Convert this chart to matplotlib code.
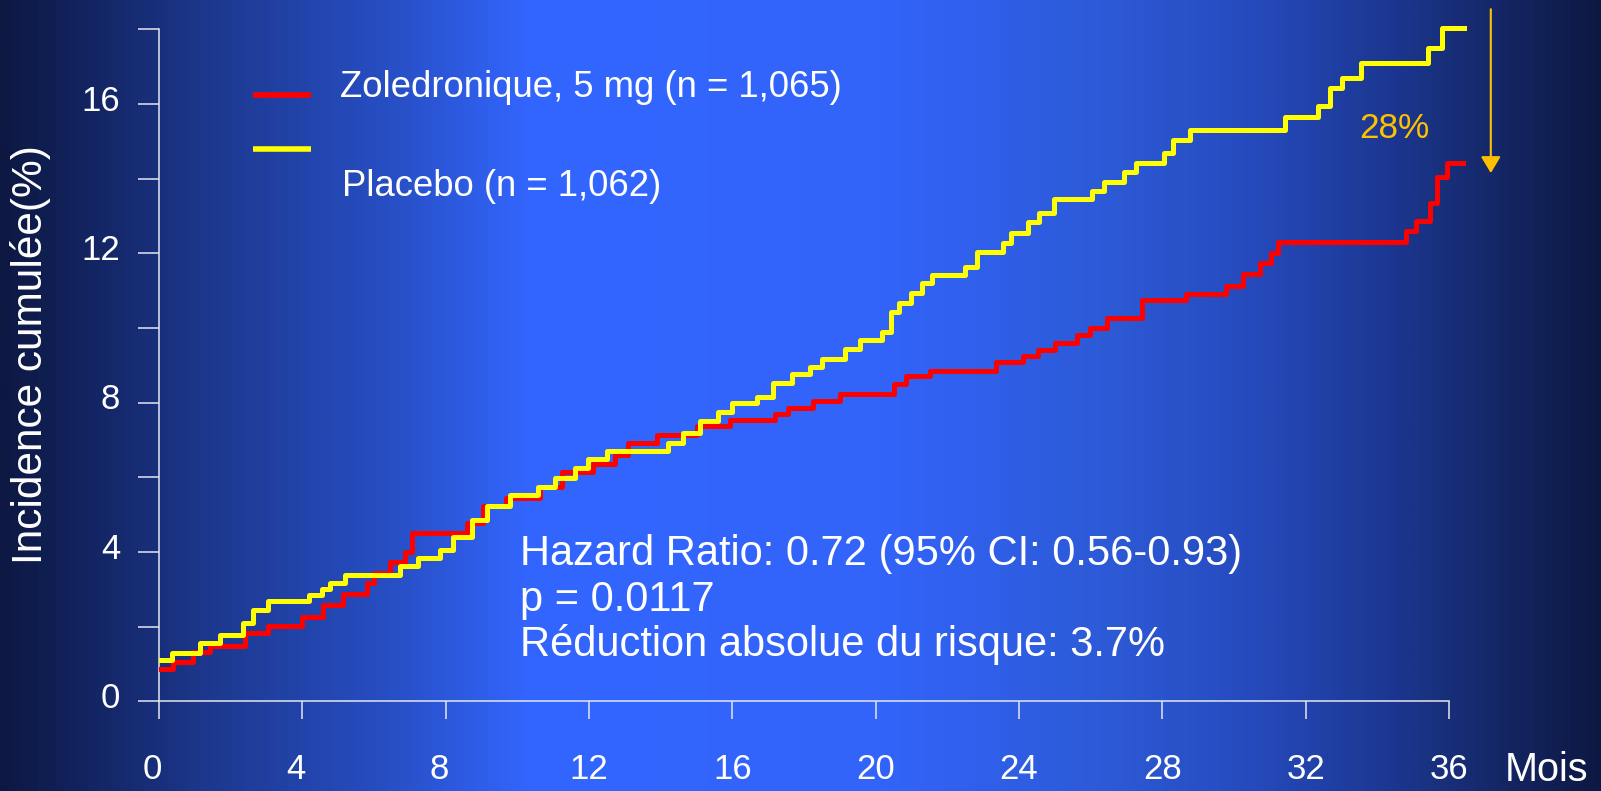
import numpy as np
import matplotlib
matplotlib.use("Agg")
import matplotlib.pyplot as plt
import matplotlib.transforms as mtransforms
from matplotlib.colors import LinearSegmentedColormap
from matplotlib.lines import Line2D

plt.rcParams['font.family'] = ['Liberation Sans', 'DejaVu Sans']

# ---------------- data ----------------
months_placebo = [0, 0.35, 1.14, 1.70, 2.35, 2.63, 3.05, 4.20, 4.54, 4.77, 5.19, 6.73, 7.24, 7.84,
                  8.21, 8.73, 9.15, 9.80, 10.59, 11.05, 11.61, 11.98, 12.50, 14.21, 14.63, 15.10,
                  15.61, 15.98, 16.68, 17.14, 17.66, 18.17, 18.50, 19.15, 19.56, 20.17, 20.42,
                  20.66, 20.98, 21.29, 21.57, 22.49, 22.82, 23.56, 23.77, 24.26, 24.57, 24.98,
                  26.03, 26.37, 26.93, 27.26, 28.06, 28.29, 28.77, 31.43, 32.36, 32.68, 33.01,
                  33.54, 35.43, 35.80, 36.45]
incidence_placebo = [1.11, 1.29, 1.57, 1.77, 2.11, 2.45, 2.70, 2.85, 3.01, 3.18, 3.38, 3.63, 3.85, 4.05,
                     4.41, 4.86, 5.23, 5.52, 5.74, 5.99, 6.24, 6.48, 6.70, 6.91, 7.18, 7.52,
                     7.76, 7.98, 8.14, 8.53, 8.77, 8.96, 9.16, 9.43, 9.69, 9.90, 10.42,
                     10.66, 10.95, 11.21, 11.42, 11.64, 12.04, 12.29, 12.55, 12.85, 13.07, 13.45,
                     13.68, 13.90, 14.19, 14.41, 14.68, 15.04, 15.30, 15.64, 15.95, 16.42, 16.69,
                     17.11, 17.51, 18.03, 18.03]

months_zol = [0, 0.40, 0.94, 1.42, 2.40, 3.05, 3.98, 4.59, 5.13, 5.80, 6.00, 6.45, 6.87, 7.05,
              8.59, 9.03, 9.68, 10.63, 11.24, 12.12, 12.73, 13.10, 13.89, 15.01, 15.94, 17.19,
              17.56, 18.26, 19.01, 20.52, 20.85, 21.52, 23.35, 24.12, 24.54, 25.01, 25.61,
              25.97, 26.45, 27.43, 28.66, 29.78, 30.26, 30.73, 31.03, 31.24, 34.80, 35.08,
              35.47, 35.66, 35.94, 36.40]
incidence_zol = [0.86, 1.06, 1.31, 1.48, 1.82, 2.02, 2.27, 2.58, 2.87, 3.18, 3.43, 3.74, 4.01, 4.52,
                 4.78, 5.23, 5.44, 5.75, 6.15, 6.37, 6.60, 6.91, 7.13, 7.37, 7.54, 7.70,
                 7.87, 8.05, 8.23, 8.51, 8.71, 8.86, 9.10, 9.25, 9.41, 9.61, 9.81,
                 9.99, 10.26, 10.75, 10.91, 11.12, 11.44, 11.73, 12.00, 12.31, 12.60, 12.87,
                 13.36, 14.05, 14.43, 14.43]

x_ticks = [0, 4, 8, 12, 16, 20, 24, 28, 32, 36]
x_tick_labels = ['0', '4', '8', '12', '16', '20', '24', '28', '32', '36']
y_ticks = [0, 4, 8, 12, 16]
y_tick_labels = ['0', '4', '8', '12', '16']
y_minor_ticks = [2, 6, 10, 14, 18]

label_zol = 'Zoledronique, 5 mg (n = 1,065)'
label_placebo = 'Placebo (n = 1,062)'
stats_lines = ['Hazard Ratio: 0.72 (95% CI: 0.56-0.93)',
               'p = 0.0117',
               'Réduction absolue du risque: 3.7%']
rrr_label = '28%'
arrow_from = 18.54
arrow_to = 14.15
y_label = 'Incidence cumulée(%)'
x_label = 'Mois'

# ---------------- figure ----------------
W, H = 1601, 791
fig = plt.figure(figsize=(W / 100, H / 100), dpi=100)

# background gradient
bg = fig.add_axes([0, 0, 1, 1])
bg.axis('off')
stops = [(0.00, (13, 24, 66)), (0.05, (18, 35, 95)), (0.125, (28, 55, 140)),
         (0.25, (40, 80, 200)), (0.33, (51, 102, 255)), (0.55, (50, 100, 250)),
         (0.69, (45, 90, 215)), (0.78, (38, 75, 190)), (0.87, (28, 55, 145)),
         (0.94, (20, 38, 100)), (1.00, (13, 24, 66))]
cmap = LinearSegmentedColormap.from_list('bg', [(p, tuple(c / 255 for c in rgb)) for p, rgb in stops])
bg.imshow(np.linspace(0, 1, 1601)[None, :], aspect='auto', cmap=cmap, extent=[0, 1, 0, 1])
bg.set_xlim(0, 1)
bg.set_ylim(0, 1)

x0_px, y0_px = 159, 701.3
px_per_month, px_per_unit = 35.83, 37.33
xmax, ymax = 36.5, 18.7
ax = fig.add_axes([x0_px / W, (H - y0_px) / H, xmax * px_per_month / W, ymax * px_per_unit / H])
ax.patch.set_alpha(0)
ax.set_xlim(0, xmax)
ax.set_ylim(0, ymax)

ax.step(months_zol, incidence_zol, where='post', color='#FF0000', lw=3.6, zorder=3)
ax.step(months_placebo, incidence_placebo, where='post', color='#FFFF00', lw=3.6, zorder=4)

spine_col = '#E4E6EE'
for s in ['top', 'right']:
    ax.spines[s].set_visible(False)
ax.spines['left'].set_bounds(0, 18)
ax.spines['bottom'].set_bounds(0, 36)
for s in ['left', 'bottom']:
    ax.spines[s].set_color(spine_col)
    ax.spines[s].set_linewidth(1.1)

ax.set_xticks(x_ticks)
ax.set_xticklabels(x_tick_labels)
ax.set_yticks(y_ticks)
ax.set_yticklabels(y_tick_labels)
ax.set_yticks(y_minor_ticks, minor=True)
ax.tick_params(axis='x', which='both', length=13, width=1.1, color=spine_col, pad=24,
               labelsize=25, labelcolor='white')
ax.tick_params(axis='y', which='both', length=15, width=1.1, color=spine_col, pad=13,
               labelsize=25, labelcolor='white')

# single-digit month labels sit left of their tick, as in the original
for lab in ax.get_xticklabels():
    if len(lab.get_text()) == 1:
        lab.set_ha('right')
        lab.set_transform(lab.get_transform() +
                          mtransforms.ScaledTranslation(2 / 72, 0, fig.dpi_scale_trans))
# y labels sit slightly above their ticks
up = mtransforms.ScaledTranslation(0, 4.5 / 72, fig.dpi_scale_trans)
for lab in ax.get_yticklabels():
    lab.set_transform(lab.get_transform() + up)

# legend keys and labels
ax.add_line(Line2D([2.62, 4.24], [16.24, 16.24], color='#FF0000', lw=4, solid_capstyle='butt'))
ax.add_line(Line2D([2.62, 4.24], [14.79, 14.79], color='#FFFF00', lw=4, solid_capstyle='butt'))
ax.text(5.05, 16.20, label_zol, color='white', fontsize=26.3, va='baseline', ha='left')
ax.text(5.11, 13.53, label_placebo, color='white', fontsize=26.3, va='baseline', ha='left')

# statistics
for yv, line in zip([3.65, 2.43, 1.21], stats_lines):
    ax.text(10.08, yv, line, color='white', fontsize=30, va='baseline', ha='left')

# relative risk reduction
ax.text(34.49, 15.08, rrr_label, color='#FFC000', fontsize=25.4, va='baseline', ha='center')
ax.annotate('', xy=(37.17, arrow_to), xytext=(37.17, arrow_from), annotation_clip=False,
            arrowprops=dict(arrowstyle='-|>,head_length=0.5,head_width=0.3', color='#FFC000',
                            lw=1.5, mutation_scale=20, shrinkA=0, shrinkB=0))

fig.text(31 / W, 1 - 355 / H, y_label, rotation=90, color='white', fontsize=30.5,
         ha='center', va='center')
fig.text(1546 / W, 10 / H, x_label, color='white', fontsize=28.5, ha='center', va='baseline')

fig.savefig('out.png', dpi=100)
